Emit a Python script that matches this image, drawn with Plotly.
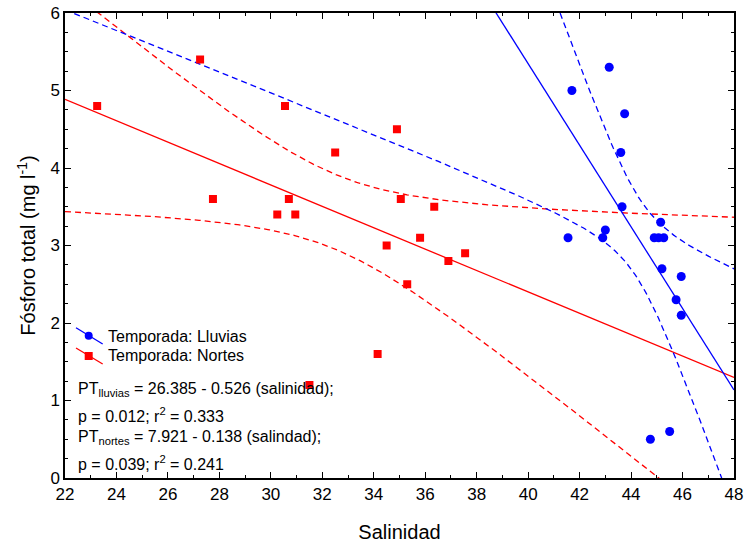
import numpy as np
import plotly.graph_objects as go

# Muestras de la temporada de lluvias
sal_lluvias = [41.7, 43.15, 43.75, 43.6, 43.65, 41.55, 42.9, 43.0, 45.15,
               44.9, 45.07, 45.27, 45.2, 45.95, 45.75, 45.95, 44.75, 45.5]
pt_lluvias = [5.0, 5.3, 4.7, 4.2, 3.5, 3.1, 3.1, 3.2, 3.3,
              3.1, 3.1, 3.1, 2.7, 2.6, 2.3, 2.1, 0.5, 0.6]

# Muestras de la temporada de nortes
sal_nortes = [23.25, 27.25, 27.75, 30.25, 30.55, 30.7, 30.95, 32.5, 34.9,
              35.05, 34.5, 35.8, 36.35, 36.9, 37.55, 35.3, 34.15, 31.5]
pt_nortes = [4.8, 5.4, 3.6, 3.4, 4.8, 3.6, 3.4, 4.2, 4.5,
             3.6, 3.0, 3.1, 3.5, 2.8, 2.9, 2.5, 1.6, 1.2]

# Ajustes lineales reportados
b0_lluvias, b1_lluvias, p_lluvias, r2_lluvias = 26.385, -0.526, "0.012", "0.333"
b0_nortes, b1_nortes, p_nortes, r2_nortes = 7.921, -0.138, "0.039", "0.241"

x_ticks = list(range(22, 49, 2))
y_ticks = list(range(0, 7))

T_CRIT = 2.1199  # t de Student, 97.5 %, 16 g.l. (n = 18)

BLUE = "#0000FF"
RED = "#FF0000"
FONT = "Liberation Sans, Arial, sans-serif"

xs = np.linspace(22, 48, 400)


def banda(x, y, b0, b1):
    x = np.asarray(x, float)
    y = np.asarray(y, float)
    n = len(x)
    res = y - (b0 + b1 * x)
    s = np.sqrt(np.sum(res ** 2) / (n - 2))
    sxx = np.sum((x - x.mean()) ** 2)
    fit = b0 + b1 * xs
    half = T_CRIT * s * np.sqrt(1.0 / n + (xs - x.mean()) ** 2 / sxx)
    return fit, fit - half, fit + half


fig = go.Figure()

for x, y, b0, b1, col in [(sal_nortes, pt_nortes, b0_nortes, b1_nortes, RED),
                          (sal_lluvias, pt_lluvias, b0_lluvias, b1_lluvias, BLUE)]:
    fit, lo, hi = banda(x, y, b0, b1)
    for band in (lo, hi):
        fig.add_trace(go.Scatter(x=xs, y=band, mode="lines", showlegend=False,
                                 line=dict(color=col, width=1.3, dash="6px,4px"),
                                 hoverinfo="skip"))
    fig.add_trace(go.Scatter(x=xs, y=fit, mode="lines", showlegend=False,
                             line=dict(color=col, width=1.3), hoverinfo="skip"))

fig.add_trace(go.Scatter(x=sal_nortes, y=pt_nortes, mode="markers", showlegend=False,
                         marker=dict(symbol="square", size=8, color=RED)))
fig.add_trace(go.Scatter(x=sal_lluvias, y=pt_lluvias, mode="markers", showlegend=False,
                         marker=dict(symbol="circle", size=9, color=BLUE)))

axis_common = dict(
    showline=True, linecolor="black", linewidth=1.5, mirror="ticks",
    ticks="inside", ticklen=6, tickwidth=1, tickcolor="black",
    showgrid=False, zeroline=False,
    tickfont=dict(family=FONT, size=17, color="black"),
)

fig.update_xaxes(range=[22, 48], tickmode="array", tickvals=x_ticks,
                 ticktext=[str(v) for v in x_ticks],
                 minor=dict(dtick=1, tick0=22, ticks="inside", ticklen=3, tickcolor="black"),
                 title=dict(text="Salinidad", font=dict(family=FONT, size=20, color="black"),
                            standoff=22),
                 **axis_common)
fig.update_yaxes(range=[0, 6], tickmode="array", tickvals=y_ticks,
                 ticktext=[str(v) for v in y_ticks],
                 minor=dict(dtick=0.25, tick0=0, ticks="inside", ticklen=3, tickcolor="black"),
                 title=dict(text="Fósforo total (mg l<sup>-1</sup>)",
                            font=dict(family=FONT, size=20, color="black"), standoff=9),
                 **axis_common)

# Leyenda con trazo diagonal
def px2paper(px, py):
    return (px - 65) / 669.0, (478 - py) / 465.0

shapes = []
annotations = []
for (y0, y1, ym, col, sym, label) in [(327.7, 344, 336, BLUE, "circle", "Temporada: Lluvias"),
                                       (348, 364, 356, RED, "square", "Temporada: Nortes")]:
    ax0, ay0 = px2paper(76, y0)
    ax1, ay1 = px2paper(102.7, y1)
    shapes.append(dict(type="line", xref="paper", yref="paper", x0=ax0, y0=ay0, x1=ax1, y1=ay1,
                       line=dict(color=col, width=1.3)))
    cx, cy = px2paper(88.7, (y0 + y1) / 2)
    rx, ry = 4 / 669.0, 4 / 465.0
    shapes.append(dict(type=sym if sym == "circle" else "rect", xref="paper", yref="paper",
                       x0=cx - rx, x1=cx + rx, y0=cy - ry, y1=cy + ry,
                       fillcolor=col, line=dict(color=col, width=0)))
    tx, ty = px2paper(106, ym)
    annotations.append(dict(text=label, xref="paper", yref="paper", x=tx, y=ty,
                            xanchor="left", yanchor="middle", showarrow=False,
                            font=dict(family=FONT, size=16, color="black")))


def fmt(b0, b1):
    sign = "-" if b1 < 0 else "+"
    return f"{b0:.3f} {sign} {abs(b1):.3f}"


eq_lines = [
    (389, f"PT<sub>lluvias</sub> = {fmt(b0_lluvias, b1_lluvias)} (salinidad);"),
    (415, f"p = {p_lluvias}; r<sup>2</sup> = {r2_lluvias}"),
    (437, f"PT<sub>nortes</sub> = {fmt(b0_nortes, b1_nortes)} (salindad);"),
    (463, f"p = {p_nortes}; r<sup>2</sup> = {r2_nortes}"),
]
for py, txt in eq_lines:
    tx, ty = px2paper(76, py)
    annotations.append(dict(text=txt, xref="paper", yref="paper", x=tx, y=ty,
                            xanchor="left", yanchor="middle", showarrow=False,
                            font=dict(family=FONT, size=16, color="black")))

fig.update_layout(
    width=746, height=546,
    margin=dict(l=65, r=12, t=13, b=68, autoexpand=False),
    plot_bgcolor="white", paper_bgcolor="white",
    showlegend=False,
    shapes=shapes, annotations=annotations,
)

fig.write_html("out.html")
